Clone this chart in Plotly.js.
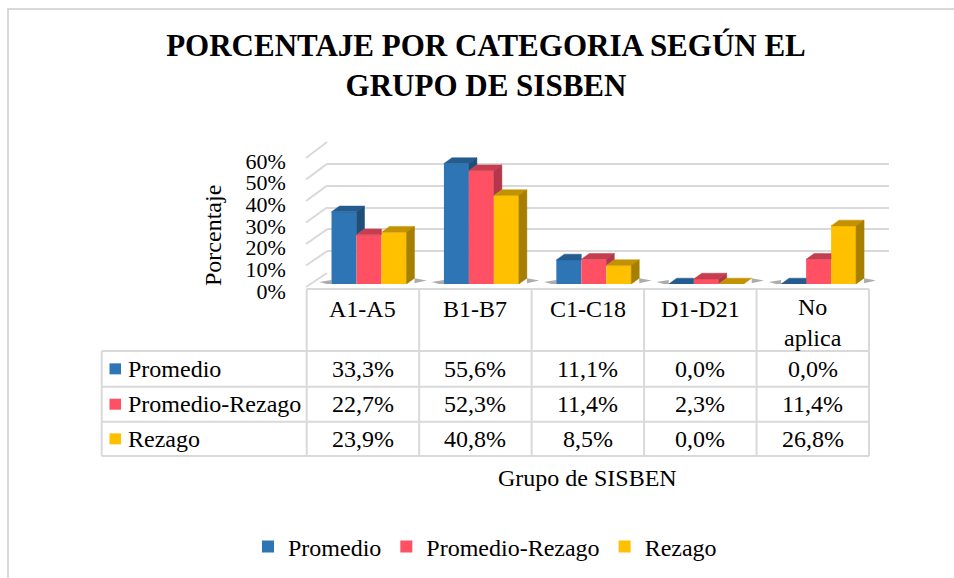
<!DOCTYPE html>
<html><head><meta charset="utf-8">
<script src="https://cdn.plot.ly/plotly-3.0.1.min.js"></script>
<style>html,body{margin:0;padding:0;background:#fff}#chart{width:954px;height:578px}</style>
</head><body><div id="chart"></div>
<script>
// ---- data ----
const categories = ['A1-A5','B1-B7','C1-C18','D1-D21','No aplica'];
const headerLabels = ['A1-A5','B1-B7','C1-C18','D1-D21','No<br>aplica'];
const seriesNames = ['Promedio','Promedio-Rezago','Rezago'];
const promedio = [33.3,55.6,11.1,0.0,0.0];
const promedioRezago = [22.7,52.3,11.4,2.3,11.4];
const rezago = [23.9,40.8,8.5,0.0,26.8];
const yTicks = [0,10,20,30,40,50,60];

// ---- style ----
const series = [promedio, promedioRezago, rezago];
const frontColors = ['#2E75B6','#FF5064','#FFC000'];
const sideColors  = ['#1F4E79','#B3364A','#A67F00'];
const topColors   = ['#255C8F','#C73D50','#C29200'];
const FONT = '"Liberation Serif","Times New Roman",serif';
const GRID = '#D9D9D9';

const L=306,R=890,T=130,B=290;
const px = x => (x-L)/(R-L);
const py = y => (B-y)/(B-T);

const barsX0 = 312.8, barsX1 = 874.8, barsY0 = 284, barsY60 = 154;
const unitPx = (barsX1-barsX0)/categories.length;
const yPx = (barsY0-barsY60)/60;
const bargap = 1/3;
const barW = (1-bargap)/3;
const dx = 8/unitPx;
const dy = 5.8/yPx;

const traces = [];
traces.push({type:'scatter', x:[0.5], y:[0], mode:'none', xaxis:'x', yaxis:'y', showlegend:false, hoverinfo:'skip'});
series.forEach((vals,k)=>{
  traces.push({type:'bar', x: categories.map((_,i)=>i), y: vals, name: seriesNames[k],
    marker:{color: frontColors[k], line:{width:0}}, xaxis:'x2', yaxis:'y2', hoverinfo:'skip'});
});
function poly(pts, color, lw){
  traces.push({type:'scatter', mode:'lines', x: pts.map(p=>p[0]).concat([pts[0][0]]), y: pts.map(p=>p[1]).concat([pts[0][1]]),
    fill:'toself', fillcolor: color, line:{color: color, width: lw===undefined?0.5:lw}, xaxis:'x2', yaxis:'y2', showlegend:false, hoverinfo:'skip'});
}
// soft floor shadows beside each group
categories.forEach((c,i)=>{
  const g0 = i - (1-bargap)/2, g1 = i + (1-bargap)/2 + dx;
  poly([[g0-0.11,0.9],[g0,-0.6],[g0,1.9]], 'rgba(70,70,70,0.45)', 0);
  poly([[g1,0.3],[g1+0.11,1.6],[g1,2.6]], 'rgba(70,70,70,0.45)', 0);
});
categories.forEach((c,i)=>{
  series.forEach((vals,k)=>{
    const v = vals[i];
    const x0 = i - (1-bargap)/2 + k*barW, x1 = x0 + barW;
    const next = k < series.length-1 ? series[k+1][i] : null;
    if (next !== null && next > v) {
      poly([[x0,v],[x0+dx,v+dy],[x1,v+dy],[x1,v]], topColors[k]);
    } else {
      poly([[x0,v],[x0+dx,v+dy],[x1+dx,v+dy],[x1,v]], topColors[k]);
    }
    const lo = next === null ? 0 : next;
    if (v > lo) poly([[x1,lo],[x1+dx,lo+dy],[x1+dx,v+dy],[x1,v]], sideColors[k]);
  });
});

// ---- shapes ----
const shapes = [];
shapes.push({type:'rect', xref:'paper', yref:'paper', x0:px(8), x1:px(1000), y0:py(9), y1:py(620), line:{color:GRID,width:2}, layer:'below'});
const backY0=273, backY60=142, frontY0=287, frontY60=158;
yTicks.forEach(v=>{
  shapes.push({type:'line', xref:'paper', yref:'paper',
    x0:px(306), y0:py(frontY0+(frontY60-frontY0)*v/60),
    x1:px(327), y1:py(backY0+(backY60-backY0)*v/60), line:{color:GRID,width:2}, layer:'below'});
});
const colEdges = [306.7];
for (let i=1;i<=categories.length;i++) colEdges.push(306.7 + i*112.46);
const rowEdges = [351, 386.7, 421.7, 456];
const tL = 101.7, tTop = 289, tR = colEdges[colEdges.length-1];
shapes.push({type:'line', xref:'paper', yref:'paper', x0:px(colEdges[0]), x1:px(tR), y0:py(tTop), y1:py(tTop), line:{color:GRID,width:2}});
rowEdges.forEach(y=>shapes.push({type:'line', xref:'paper', yref:'paper', x0:px(tL), x1:px(tR), y0:py(y), y1:py(y), line:{color:GRID,width:2}}));
shapes.push({type:'line', xref:'paper', yref:'paper', x0:px(tL), x1:px(tL), y0:py(rowEdges[0]), y1:py(rowEdges[3]), line:{color:GRID,width:2}});
colEdges.forEach(x=>shapes.push({type:'line', xref:'paper', yref:'paper', x0:px(x), x1:px(x), y0:py(tTop), y1:py(rowEdges[3]), line:{color:GRID,width:2}}));

// ---- annotations ----
const annotations = [];
const txt = (text,x,y,opt={}) => annotations.push(Object.assign({text, xref:'paper', yref:'paper', x:px(x), y:py(y), showarrow:false,
  xanchor:'center', yanchor:'middle', font:{family:FONT,size:24,color:'#000'}}, opt));
const colCenter = i => (colEdges[i]+colEdges[i+1])/2;
headerLabels.forEach((h,i)=>{
  if (h.indexOf('<br>')>=0) txt(h, colCenter(i), 322);
  else txt(h, colCenter(i), 309);
});
const fmt = v => v.toFixed(1).replace('.',',') + '%';
series.forEach((vals,k)=>{
  const yc = (rowEdges[k]+rowEdges[k+1])/2;
  vals.forEach((v,i)=>txt(fmt(v), colCenter(i), yc));
  txt(seriesNames[k], 126, yc, {xanchor:'left'});
  shapes.push({type:'rect', xref:'paper', yref:'paper', x0:px(109.5), x1:px(121), y0:py(yc-5.5), y1:py(yc+5.5), fillcolor:frontColors[k], line:{width:0}});
});
txt('Grupo de SISBEN', (colEdges[0]+tR)/2, 478);
txt('Porcentaje', 213, 236, {textangle:-90});

const layout = {
  width:954, height:578,
  margin:{l:L, r:954-R, t:T, b:578-B, pad:0},
  paper_bgcolor:'#fff', plot_bgcolor:'rgba(0,0,0,0)',
  font:{family:FONT, color:'#000'},
  title:{text:'<b>PORCENTAJE POR CATEGORIA SEGÚN EL<br>GRUPO DE SISBEN</b>', font:{family:FONT,size:31,color:'#000'},
    xref:'container', yref:'container', x:486/954, xanchor:'center', y:1-56/578, yanchor:'top'},
  showlegend:true,
  legend:{orientation:'h', xref:'container', yref:'container', x:248/954, xanchor:'left', y:1-547/578, yanchor:'middle',
    font:{family:FONT,size:24,color:'#000'}, bgcolor:'rgba(0,0,0,0)', traceorder:'normal'},
  barmode:'group', bargap:bargap, bargroupgap:0,
  xaxis:{domain:[px(327),px(889)], range:[0,1], showticklabels:false, showgrid:false, zeroline:false, showline:false, ticks:'', fixedrange:true},
  yaxis:{domain:[py(backY0), py(backY60)], range:[0,60], tickvals:yTicks, showgrid:true, gridcolor:GRID, gridwidth:2,
    showticklabels:false, zeroline:false, showline:false, ticks:'', fixedrange:true},
  xaxis2:{domain:[px(barsX0), px(barsX1)], range:[-0.5, categories.length-0.5], anchor:'y2', visible:false, fixedrange:true},
  yaxis2:{domain:[py(barsY0), py(barsY60)], range:[0,60], anchor:'x2', tickvals:yTicks, ticktext:yTicks.map(v=>v+'%'),
    showgrid:false, zeroline:false, showline:false, ticks:'', ticklabelstandoff:26, ticklabelshift:7,
    tickfont:{family:FONT,size:22,color:'#000'}, fixedrange:true},
  shapes, annotations
};
Plotly.newPlot('chart', traces, layout, {displayModeBar:false, staticPlot:true});
</script></body></html>
